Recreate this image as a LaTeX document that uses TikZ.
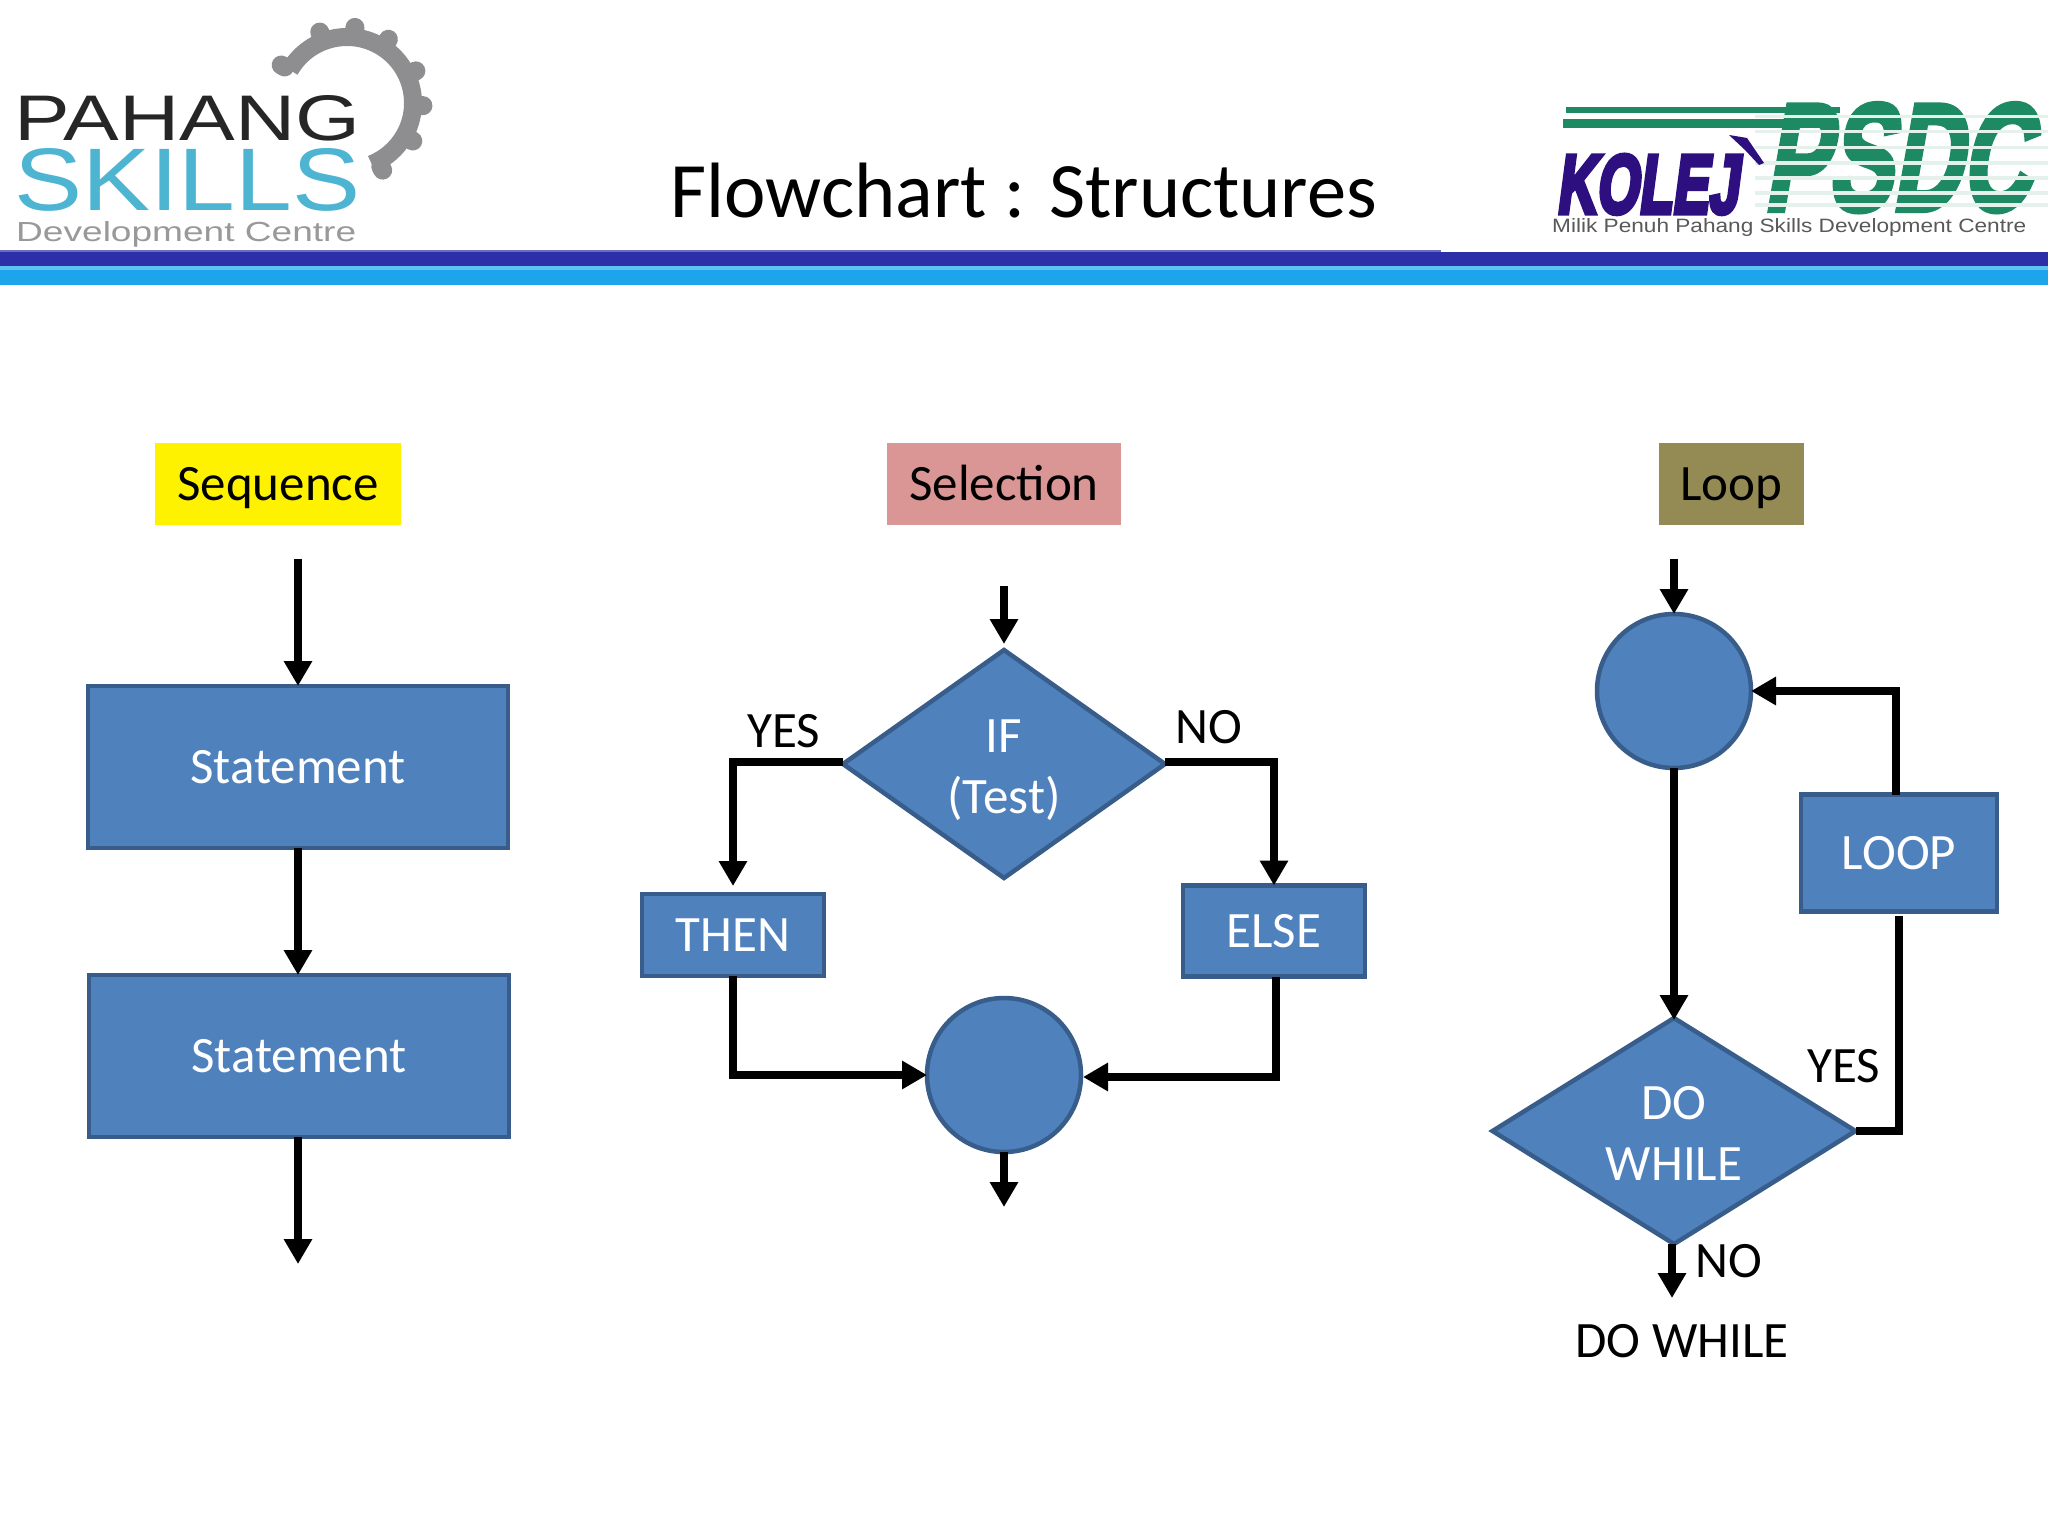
\documentclass[tikz,border=0pt]{standalone}
\usepackage{fontspec}
\usepackage{graphicx}
\usetikzlibrary{arrows.meta,shapes.geometric}
\setmainfont{Carlito}
\newfontfamily\logofont{Liberation Sans}
\newfontfamily\heavyfont[FakeBold=4,FakeSlant=0.28]{Liberation Sans Bold}
\newfontfamily\kolejfont[FakeBold=6,FakeSlant=0.2]{Liberation Sans Bold}
\definecolor{nodefill}{HTML}{4F81BD}
\definecolor{nodeline}{HTML}{385D8A}
\definecolor{bardark}{HTML}{2C2FA8}
\definecolor{barlight}{HTML}{1CA5EA}
\definecolor{selcol}{HTML}{D99694}
\definecolor{loopcol}{HTML}{948A54}
\definecolor{psdcgreen}{HTML}{1E8A63}
\definecolor{kolejcol}{HTML}{2E0F7F}
\definecolor{skillcol}{HTML}{4DB4D2}
\definecolor{gearcol}{HTML}{8E8E90}
\newcommand{\fsz}[1]{\fontsize{#1}{#1}\selectfont}
\tikzset{
  header/.style={minimum height=82pt,inner sep=0pt,text=black,font=\fsz{51},text height=40pt,text depth=8pt},
  box/.style={draw=nodeline,line width=4.5pt,fill=nodefill,text=white,font=\fsz{51},inner sep=0pt,outer sep=0pt},
  dia/.style={box,diamond,aspect=1.6,align=center,font=\fontsize{51}{61}\selectfont},
  joint/.style={box,circle},
  flow/.style={line width=7.5pt,draw=black,-{Triangle[length=25pt,width=27pt]},miter limit=10},
  lbl/.style={text=black,font=\fsz{51},inner sep=0pt},
  logo/.style={inner sep=0pt,anchor=base west}
}
\begin{document}
\begin{tikzpicture}[x=1pt,y=-1pt]
\useasboundingbox (0,0) rectangle (2048,1536);
\fill[white] (0,0) rectangle (2048,1536);
% header bars
\fill[bardark] (0,252) rectangle (2048,266);
\fill[bardark!70!white] (0,250) rectangle (1441,252);
\fill[barlight] (0,266) rectangle (2048,285);
\fill[barlight!70!white] (0,266) rectangle (2048,270);
% left logo
\begin{scope}[shift={(347,103)},y=1pt]
  \draw[gearcol,line width=18pt] (150:66) arc[start angle=150,end angle=-68,radius=66];
  \foreach \a in {150,111,84,57,25,-2,-30,-62}
    \draw[gearcol,line width=19pt,line cap=round] (\a:72) -- (\a:76);
\end{scope}
\node[logo] (pahang) at (14,140) {\resizebox{346pt}{45pt}{\logofont\color{black!85}PAHANG}};
\node[logo] (skills) at (14,210) {\resizebox{346pt}{62pt}{\logofont\color{skillcol}SKILLS}};
\node[logo] (devc) at (16,241) {\resizebox{340pt}{20pt}{\logofont\color{black!40}Development Centre}};
% right logo
\node[logo] (psdc) at (1763,210) {\resizebox{266pt}{106pt}{\heavyfont\color{psdcgreen}PSDC}};
\foreach \yy in {115,130,146,161,176,191,203}
  \fill[white!88!psdcgreen] (1755,\yy) rectangle (2048,\yy+3.5);
\fill[psdcgreen] (1566,107) rectangle (1840,113);
\fill[psdcgreen] (1563,119) rectangle (1836,128);
\node[logo] (kolej) at (1556,213) {\resizebox{182pt}{58pt}{\kolejfont\color{kolejcol}KOLEJ}};
\fill[kolejcol] (1729,135) -- (1747,138) -- (1764,163) -- (1759,165) -- (1745,150) -- cycle;
\node[logo] (milik) at (1552,232) {\resizebox{474pt}{14pt}{\logofont\color{black!65}Milik Penuh Pahang Skills Development Centre}};
% title
\node[inner sep=0pt,font=\fsz{78.5}] (title) at (1024,191) {Flowchart : Structures};
% column headers
\node[header,fill=yellow,minimum width=246pt] (seq) at (278,484) {Sequence};
\node[header,fill=selcol,minimum width=234pt] (sel) at (1004,484) {Selection};
\node[header,fill=loopcol,minimum width=145pt] (lop) at (1731,484) {Loop};
% sequence
\coordinate (s0) at (298,559);
\coordinate (s9) at (298,1264);
\node[box,minimum width=420pt,minimum height=162pt] (st1) at (298,767) {Statement};
\node[box,minimum width=420pt,minimum height=162pt] (st2) at (299,1056) {Statement};
\draw[flow] (s0) -- (st1.north);
\draw[flow] (st1.south) -- (st2.north -| st1.south);
\draw[flow] (st2.south -| s9) -- (s9);
% selection
\coordinate (i0) at (1004,586);
\coordinate (i9) at (1004,1207);
\node[dia,minimum width=322pt,minimum height=228pt] (ifd) at (1004,764) {\rule{0pt}{44.5pt}IF\\(Test)};
\node[box,minimum width=182pt,minimum height=82pt] (then) at (733,935) {THEN};
\node[box,minimum width=182pt,minimum height=91pt] (els) at (1274,931) {ELSE};
\node[joint,minimum size=154pt] (jn) at (1004,1075) {};
\draw[flow] (i0) -- ([yshift=6pt]ifd.north);
\draw[flow,shorten >=8pt] ([yshift=2pt]ifd.west) -| (then.north);
\draw[flow] ([yshift=2pt]ifd.east) -| (els.north);
\draw[flow] (then.south) |- (jn.west);
\draw[flow] ([xshift=2pt]els.south) |- ([yshift=-2pt,xshift=2pt]jn.east);
\draw[flow] (jn.south) -- (i9);
\node[lbl] (yesl) at (784,731) {YES};
\node[lbl] (nor) at (1209,727) {NO};
% loop
\coordinate (l0) at (1674,559);
\coordinate (l9) at (1672,1298);
\node[joint,minimum size=154pt] (jl) at (1674,691) {};
\node[dia,minimum width=363pt,minimum height=226pt] (dow) at (1674,1131) {\rule{0pt}{37pt}DO\\WHILE};
\node[box,minimum width=196pt,minimum height=117pt] (lbox) at (1899,853) {LOOP};
\draw[flow] (l0) -- (jl.north);
\draw[flow] (jl.south) -- ([yshift=-2pt]dow.north);
\draw[line width=7.5pt] (dow.east) -| ([yshift=-4pt]lbox.south);
\draw[flow] ([xshift=-3pt]lbox.north) |- (jl.east);
\draw[flow] (dow.south -| l9) -- (l9);
\node[lbl] (yesd) at (1844,1066) {YES};
\node[lbl] (nod) at (1729,1261) {NO};
\node[lbl] (dwt) at (1682,1341) {DO WHILE};
\end{tikzpicture}
\end{document}
